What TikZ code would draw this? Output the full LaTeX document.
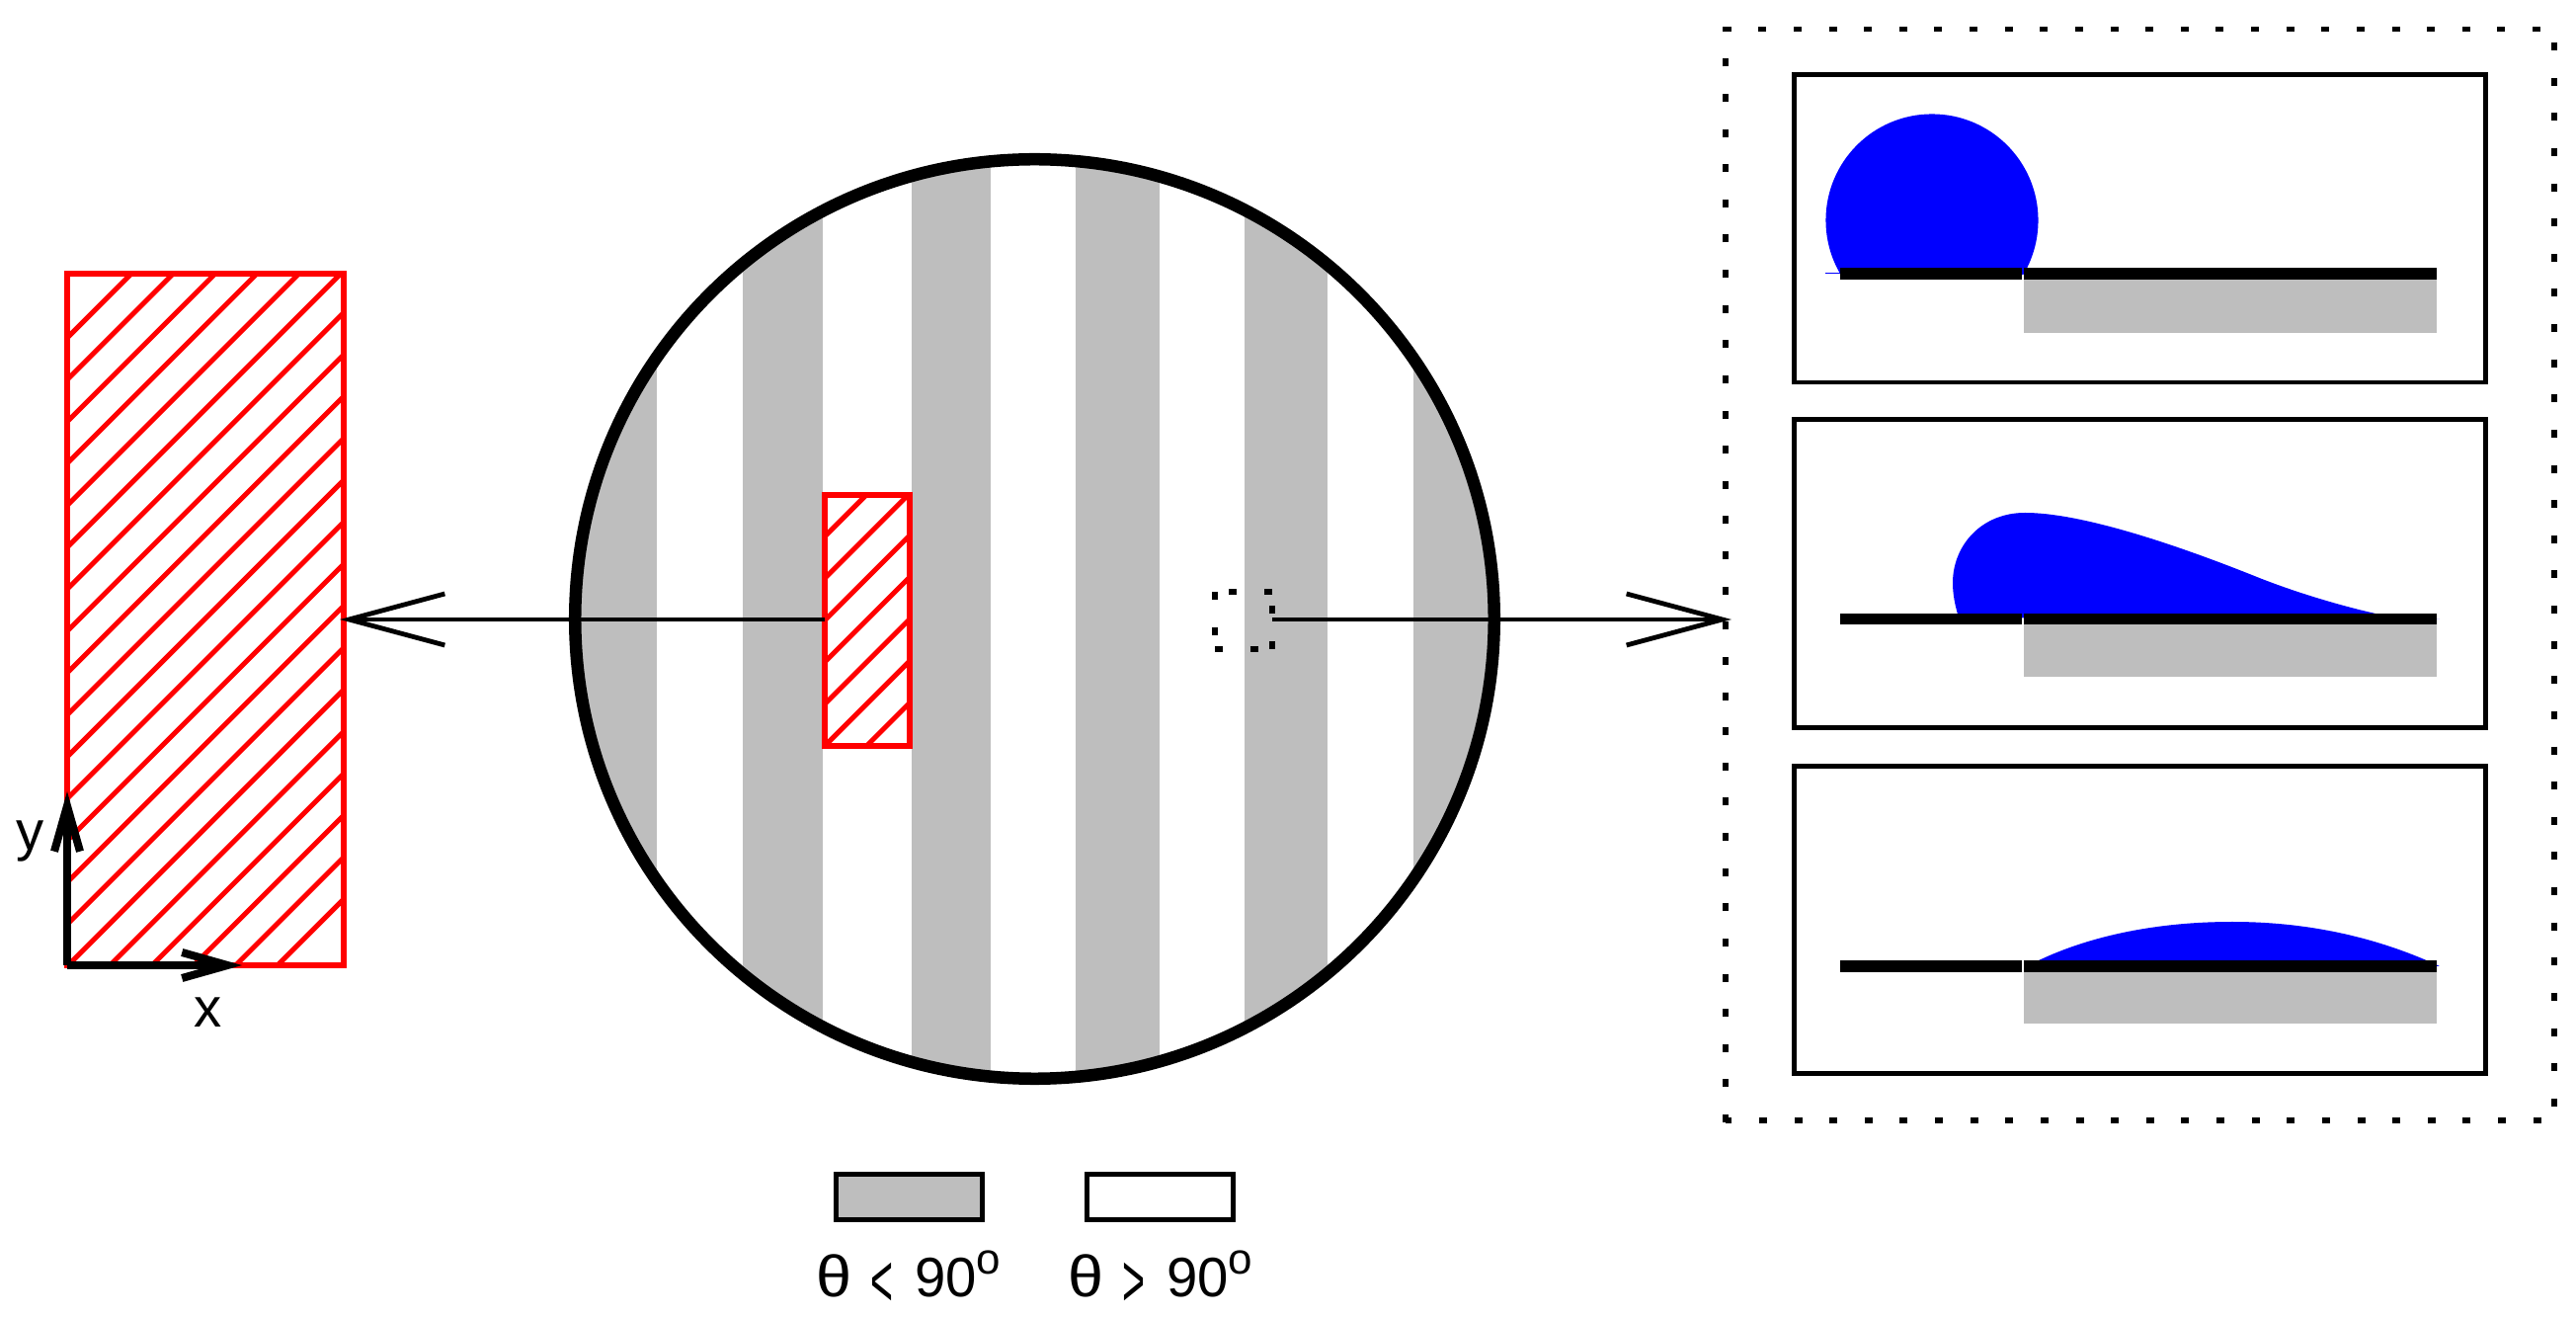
\documentclass[tikz,border=0pt]{standalone}
\usepackage{graphicx}
\usepackage{fontspec}
\setmainfont{Liberation Sans}
\usetikzlibrary{arrows.meta}
\definecolor{grayA}{HTML}{BEBEBE}
\newcommand{\legendtext}[1]{\makebox[0.55cm][l]{\scalebox{1.15}[1.05]{θ}}\makebox[0.45cm][l]{\raisebox{-0.1cm}{\scalebox{0.7}[1.35]{#1}}}\makebox[0.62cm][l]{90}\raisebox{0.22cm}{\fontsize{12.5}{14}\selectfont o}}
\tikzset{
  x=0.01cm,y=-0.01cm,
  redbox/.style={draw=red,line width=0.055cm,fill=none,inner sep=0pt,outer sep=0pt,rectangle},
  hatchline/.style={draw=red,line width=0.05cm},
  panel/.style={draw=black,line width=0.048cm,fill=white,inner sep=0pt,outer sep=0pt,rectangle,minimum width=6.99cm,minimum height=3.115cm},
  legendbox/.style={draw=black,line width=0.045cm,inner sep=0pt,outer sep=0pt,rectangle,minimum width=1.48cm,minimum height=0.46cm},
  dotted frame/.style={draw=black,line width=0.055cm,dash pattern=on 0.08cm off 0.276cm},
  bigarrow/.style={draw=black,line width=0.048cm,shorten >=-0.06cm,-{Straight Barb[length=0.97cm,width=0.52cm,line width=0.048cm]}},
  axisarrow/.style={draw=black,line width=0.08cm,shorten >=-0.08cm,-{Straight Barb[length=0.46cm,width=0.26cm,line width=0.08cm]}},
  barblack/.style={fill=black},
  bargray/.style={fill=grayA},
  drop/.style={fill=blue},
  hair/.style={draw=blue,line width=0.01cm},
  lbl/.style={inner sep=0pt,outer sep=0pt,anchor=base west,font=\fontsize{16}{18}\selectfont},
}
\begin{document}
\begin{tikzpicture}
\useasboundingbox (0,0) rectangle (2608,1334);
\fill[white] (0,0) rectangle (2608,1334);

% wafer with stripes
\begin{scope}
\clip (1047.5,626.5) circle [radius=4.68cm];
\foreach \a/\b in {570/665,752/833,923/1003,1089/1174,1260/1344,1431/1525}
  \fill[bargray] (\a,140) rectangle (\b,1110);
\end{scope}
\node[circle,draw=black,line width=0.125cm,minimum size=9.3cm,inner sep=0pt,outer sep=0pt] (wafer) at (1047.5,626.5) {};

% large hatched rectangle
\begin{scope}
\clip (68,277) rectangle (348,977);
\foreach \k in {-5,...,15}
  \draw[hatchline] ({622+42.4*\k-1100},1100) -- ({622+42.4*\k-100},100);
\end{scope}
\node[redbox,minimum width=2.8cm,minimum height=7cm] (large) at (208,627) {};

% small hatched rectangle
\begin{scope}
\clip (835,501) rectangle (921,755);
\foreach \k in {0,...,6}
  \draw[hatchline] ({1378+42.4*\k-800},800) -- ({1378+42.4*\k-400},400);
\end{scope}
\node[redbox,line width=0.06cm,minimum width=0.86cm,minimum height=2.54cm] (small) at (878,628) {};

% dotted small square
\coordinate (sa) at (1230,599);
\coordinate (sb) at (1230,657);
\coordinate (sc) at (1288,657);
\coordinate (sd) at (1288,599);
\coordinate (se) at (1288,627);
\draw[dotted frame] (sa) -- (sb);
\draw[dotted frame] (sb) -- (sc);
\draw[dotted frame] (sc) -- (sd);
\draw[dotted frame] (sd) -- (sa);

% dotted large frame
\coordinate (fa) at (1747,29.5);
\coordinate (fb) at (1747,1136);
\coordinate (fc) at (2586,1134);
\coordinate (fd) at (2586,29.5);
\coordinate (fe) at (1747,1134);
\coordinate (fw) at (1747,627);
\draw[dotted frame] (fb) -- (fa) -- (fd) -- (fc) -- (fe);

% connectors
\coordinate (lt) at (350,627);
\draw[bigarrow] (small.west |- se) -- (lt);
\draw[bigarrow] (se) -- (fw);

% panels
\node[panel] (p1) at (2166.5,231.25) {};
\node[panel] (p2) at (2166.5,580.5) {};
\node[panel] (p3) at (2166.5,931) {};

% drop 1
\draw[hair] (1848,277) -- (1863,277);
\begin{scope}
\clip (1800,100) rectangle (2100,278);
\fill[drop] (1956,223) circle [radius=1.075cm];
\end{scope}
% drop 2
\fill[drop] (1983,625) .. controls (1979,612) and (1977,601) .. (1977,590)
  .. controls (1977,552) and (2006,519) .. (2050,519)
  .. controls (2115,519) and (2225,560) .. (2284,583.6)
  .. controls (2320,598) and (2365,612) .. (2405,621) -- (2470,627) -- cycle;
% drop 3
\fill[drop] (2062,973) .. controls (2120,945) and (2190,933) .. (2260,933)
  .. controls (2340,933) and (2410,950) .. (2470,978) -- cycle;

% bars
\foreach \t/\b/\g in {271.5/283.5/337,621/632/685,972/984/1036}{
  \fill[bargray] (2049,\b) rectangle (2467,\g);
  \fill[barblack] (1863,\t) rectangle (2047,\b);
  \fill[barblack] (2049,\t) rectangle (2467,\b);
}

% axes
\coordinate (o) at (68,977);
\coordinate (ox) at (237,977);
\coordinate (oy) at (68,809);
\draw[axisarrow] (o) -- (ox);
\draw[axisarrow] (o) -- (oy);
\node[lbl] (xl) at (196,1040) {x};
\node[lbl] (yl) at (16,861) {y};

% legend
\node[legendbox,fill=grayA] (lg) at (920.5,1211.5) {};
\node[legendbox,fill=white] (lw) at (1174.5,1211.5) {};
\node[lbl] (lgt) at (826,1312) {\legendtext{<}};
\node[lbl] (lwt) at (1081,1312) {\legendtext{>}};
\end{tikzpicture}
\end{document}
